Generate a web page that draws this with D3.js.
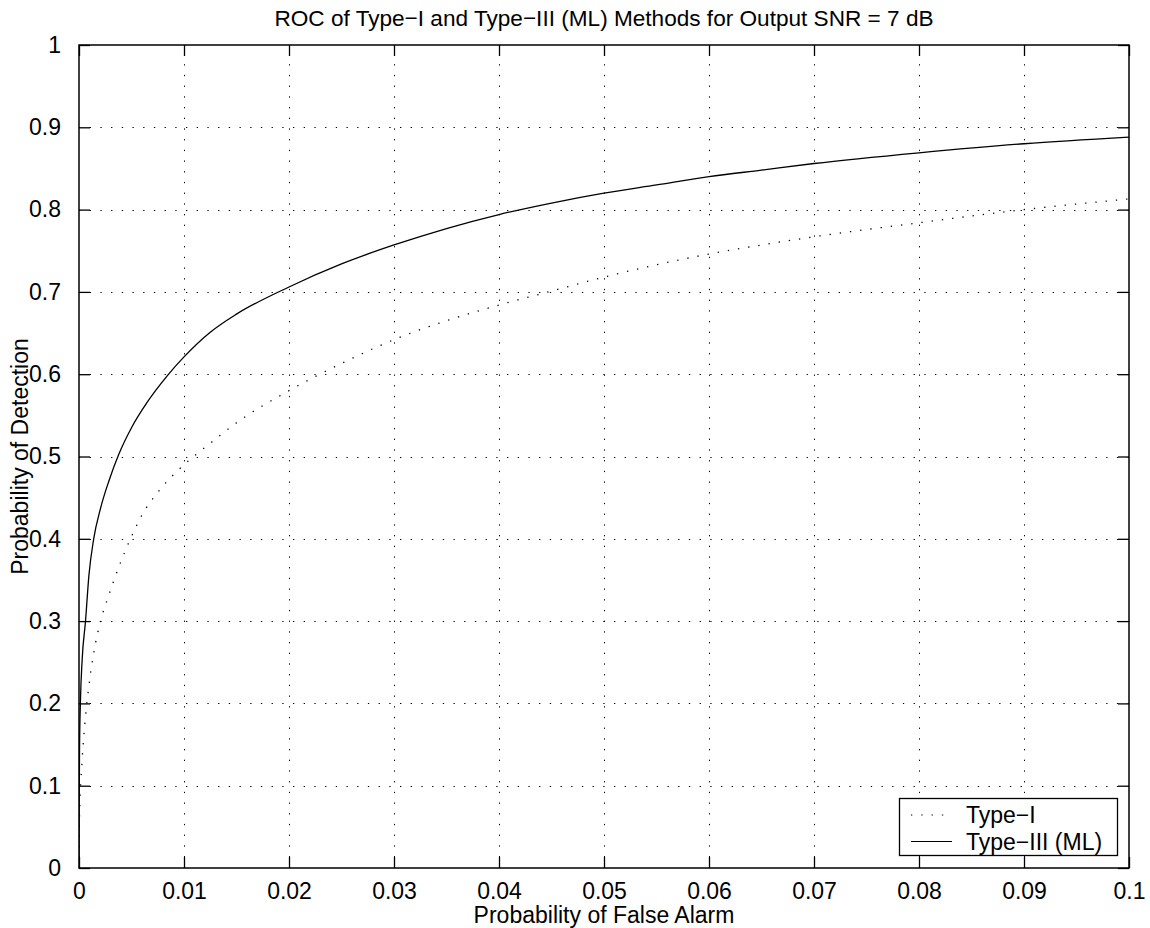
<!DOCTYPE html>
<html>
<head>
<meta charset="utf-8">
<script src="https://cdn.jsdelivr.net/npm/d3@7"></script>
<style>
  body { margin: 0; background: #fff; }
  text { font-family: "Liberation Sans", Arial, sans-serif; fill: #000; }
</style>
</head>
<body>
<div id="chart"></div>
<script>
// Data
const xTicks = [0, 0.01, 0.02, 0.03, 0.04, 0.05, 0.06, 0.07, 0.08, 0.09, 0.1];
const yTicks = [0, 0.1, 0.2, 0.3, 0.4, 0.5, 0.6, 0.7, 0.8, 0.9, 1];
const seriesNames = ["Type\u2212I", "Type\u2212III (ML)"];

const typeIPfa = [0, 0.00005, 0.0003, 0.00062, 0.00093, 0.0014, 0.00205, 0.0028, 0.0038, 0.0049,
  0.006, 0.0076, 0.01, 0.0122, 0.015, 0.02, 0.025, 0.03, 0.035, 0.04, 0.045, 0.05, 0.055,
  0.06, 0.065, 0.07, 0.08, 0.09, 0.1];
const typeIPd = [0, 0.062, 0.131, 0.184, 0.220, 0.261, 0.300, 0.330, 0.366, 0.400,
  0.429, 0.458, 0.490, 0.513, 0.541, 0.580, 0.613, 0.642, 0.665, 0.684, 0.701, 0.718, 0.733,
  0.746, 0.757, 0.767, 0.784, 0.800, 0.813];

const typeIIIPfa = [0, 0.00002, 0.00005, 0.00014, 0.0003, 0.00062, 0.00094, 0.0014, 0.00205, 0.00284,
  0.0038, 0.005, 0.0065, 0.0084, 0.01, 0.0125, 0.015, 0.02, 0.025, 0.03, 0.035, 0.04, 0.045,
  0.05, 0.055, 0.06, 0.065, 0.07, 0.08, 0.09, 0.1];
const typeIIIPd = [0, 0.08, 0.143, 0.204, 0.253, 0.300, 0.355, 0.400, 0.437, 0.470,
  0.503, 0.535, 0.566, 0.598, 0.621, 0.651, 0.673, 0.706, 0.734, 0.757, 0.777, 0.794, 0.808,
  0.820, 0.830, 0.840, 0.848, 0.856, 0.869, 0.880, 0.888];

const width = 1150;
const height = 928;
const margin = { left: 79, right: 21, top: 45, bottom: 60 };
const fontSize = 23;

const svg = d3.select("#chart")
  .append("svg")
  .attr("width", width)
  .attr("height", height);

// Scales
const xScale = d3.scaleLinear()
  .domain([0, 0.1])
  .range([margin.left, width - margin.right]);

const yScale = d3.scaleLinear()
  .domain([0, 1])
  .range([height - margin.bottom, margin.top]);

const x0 = xScale.range()[0], x1 = xScale.range()[1];
const y0 = yScale.range()[0], y1 = yScale.range()[1];

svg.append("clipPath")
  .attr("id", "plot-clip")
  .append("rect")
  .attr("x", x0)
  .attr("y", y1)
  .attr("width", x1 - x0)
  .attr("height", y0 - y1);

// Dotted grid
const grid = svg.append("g")
  .attr("stroke", "#000")
  .attr("stroke-width", 1)
  .attr("stroke-dasharray", "1.3 9.4");

grid.selectAll(".vgrid")
  .data(xTicks.slice(1, -1))
  .enter()
  .append("line")
  .attr("x1", d => Math.round(xScale(d)) + 0.5)
  .attr("x2", d => Math.round(xScale(d)) + 0.5)
  .attr("y1", y0)
  .attr("y2", y1);

grid.selectAll(".hgrid")
  .data(yTicks.slice(1, -1))
  .enter()
  .append("line")
  .attr("y1", d => Math.round(yScale(d)) + 0.5)
  .attr("y2", d => Math.round(yScale(d)) + 0.5)
  .attr("x1", x0)
  .attr("x2", x1);

// Curves
const line = d3.line()
  .x(d => xScale(d[0]))
  .y(d => yScale(d[1]))
  .curve(d3.curveMonotoneX);

const typeI = typeIPfa.map((p, i) => [p, typeIPd[i]]);
const typeIII = typeIIIPfa.map((p, i) => [p, typeIIIPd[i]]);

const curves = svg.append("g").attr("clip-path", "url(#plot-clip)");

curves.append("path")
  .datum(typeI)
  .attr("fill", "none")
  .attr("stroke", "#000")
  .attr("stroke-width", 1.3)
  .attr("stroke-dasharray", "1.3 9")
  .attr("d", line);

curves.append("path")
  .datum(typeIII)
  .attr("fill", "none")
  .attr("stroke", "#000")
  .attr("stroke-width", 1.3)
  .attr("d", line);

// Axes box with inward ticks on all four sides
const tickLen = 11;

svg.append("g")
  .attr("transform", `translate(0, ${y0})`)
  .call(d3.axisBottom(xScale).tickValues(xTicks).tickSizeInner(-tickLen).tickSizeOuter(0)
    .tickPadding(15).tickFormat(d => d3.format("")(+d.toFixed(2))))
  .call(g => g.selectAll("text").attr("font-size", fontSize).attr("font-family", null));

svg.append("g")
  .attr("transform", `translate(0, ${y1})`)
  .call(d3.axisTop(xScale).tickValues(xTicks).tickSizeInner(-tickLen).tickSizeOuter(0).tickFormat(""));

svg.append("g")
  .attr("transform", `translate(${x0}, 0)`)
  .call(d3.axisLeft(yScale).tickValues(yTicks).tickSizeInner(-tickLen).tickSizeOuter(0)
    .tickPadding(18).tickFormat(d => d3.format("")(+d.toFixed(1))))
  .call(g => g.selectAll("text").attr("font-size", fontSize).attr("font-family", null));

svg.append("g")
  .attr("transform", `translate(${x1}, 0)`)
  .call(d3.axisRight(yScale).tickValues(yTicks).tickSizeInner(-tickLen).tickSizeOuter(0).tickFormat(""));

svg.selectAll(".domain").remove();
svg.selectAll(".tick line").attr("stroke", "#000").attr("stroke-width", 1.3);

svg.append("rect")
  .attr("x", x0)
  .attr("y", y1)
  .attr("width", x1 - x0)
  .attr("height", y0 - y1)
  .attr("fill", "none")
  .attr("stroke", "#000")
  .attr("stroke-width", 1.5);

// Title and axis labels
svg.append("text")
  .attr("x", (x0 + x1) / 2)
  .attr("y", 26)
  .attr("text-anchor", "middle")
  .attr("font-size", 22.6)
  .text("ROC of Type\u2212I and Type\u2212III (ML) Methods for Output SNR = 7 dB");

svg.append("text")
  .attr("x", (x0 + x1) / 2)
  .attr("y", 923)
  .attr("text-anchor", "middle")
  .attr("font-size", fontSize)
  .text("Probability of False Alarm");

svg.append("text")
  .attr("transform", `translate(28, ${(y0 + y1) / 2}) rotate(-90)`)
  .attr("text-anchor", "middle")
  .attr("font-size", fontSize)
  .text("Probability of Detection");

// Legend
const legend = svg.append("g");

legend.append("rect")
  .attr("x", 899.5)
  .attr("y", 798.5)
  .attr("width", 218)
  .attr("height", 57)
  .attr("fill", "#fff")
  .attr("stroke", "#000")
  .attr("stroke-width", 1.3);

const legendRows = [
  { name: seriesNames[0], dash: "1.3 9", y: 815 },
  { name: seriesNames[1], dash: null, y: 841.5 }
];

legend.selectAll(".legend-line")
  .data(legendRows)
  .enter()
  .append("line")
  .attr("x1", 911)
  .attr("x2", 952)
  .attr("y1", d => d.y)
  .attr("y2", d => d.y)
  .attr("stroke", "#000")
  .attr("stroke-width", 1.2)
  .attr("stroke-dasharray", d => d.dash);

legend.selectAll(".legend-text")
  .data(legendRows)
  .enter()
  .append("text")
  .attr("x", 966)
  .attr("y", d => d.y + 8)
  .attr("font-size", fontSize)
  .text(d => d.name);
</script>
</body>
</html>
